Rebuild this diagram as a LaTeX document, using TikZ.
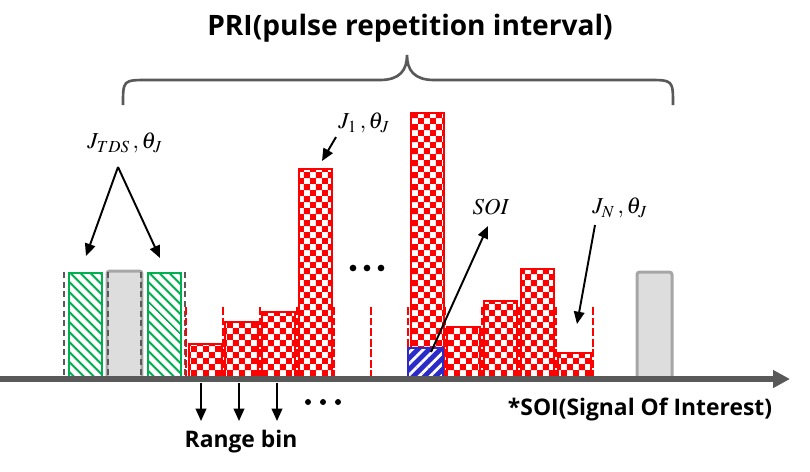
\documentclass[tikz,border=0pt]{standalone}
\usepackage{mathptmx}
\usepackage{fontspec}
\setmainfont{Liberation Serif}
\setsansfont{Open Sans}
\usepackage{tikz}
\usetikzlibrary{positioning, arrows.meta, patterns, patterns.meta}

\definecolor{axisgray}{HTML}{595959}
\definecolor{boxgray}{HTML}{A6A6A6}
\definecolor{boxfill}{HTML}{DDDDDD}
\definecolor{tdsgreen}{HTML}{00B050}
\definecolor{soiblue}{HTML}{2B2BC8}

\pgfdeclarepatternformonly{redcheck}{\pgfpointorigin}{\pgfqpoint{6.8pt}{6.8pt}}{\pgfqpoint{6.8pt}{6.8pt}}{%
  \pgfpathrectangle{\pgfpointorigin}{\pgfqpoint{3.4pt}{3.4pt}}%
  \pgfpathrectangle{\pgfqpoint{3.4pt}{3.4pt}}{\pgfqpoint{3.4pt}{3.4pt}}%
  \pgfusepath{fill}}

\tikzset{
  axisline/.style={line width=3.4pt, draw=axisgray, -{Triangle[length=9.6pt,width=9.6pt]}},
  bracket/.style={line width=1.5pt, draw=axisgray},
  graybox/.style={line width=1.7pt, draw=boxgray, fill=boxfill, rounded corners=1.5pt},
  graydash/.style={line width=1.1pt, draw=axisgray, dash pattern=on 3.5pt off 2pt},
  reddash/.style={line width=0.85pt, draw=red, dash pattern=on 4.5pt off 1.5pt},
  tdsbar/.style={line width=0.6pt, draw=tdsgreen, pattern={Lines[angle=-45,distance=4pt,line width=1.2pt]}, pattern color=tdsgreen},
  redbar/.style={line width=0.6pt, draw=red, pattern=redcheck, pattern color=red},
  soibar/.style={line width=1.5pt, draw=soiblue, preaction={fill=soiblue}, pattern={Lines[angle=45,distance=4.5pt,line width=1.6pt]}, pattern color=white},
  arr/.style={line width=1.1pt, -{Triangle[length=7pt,width=6pt]}},
  mlabel/.style={font=\fontsize{13}{15}\selectfont},
  tlabel/.style={font=\sffamily\bfseries\fontsize{13}{16}\selectfont}
}

\begin{document}
\begin{tikzpicture}[x=0.02cm, y=-0.02cm]
\useasboundingbox (0,0) rectangle (810,471);

% title and brace
\node[font=\sffamily\bfseries\fontsize{16}{19}\selectfont] (pri) at (410,28) {PRI(pulse repetition interval)};
\draw[bracket] (123,105) .. controls (123,80) .. (148,80) -- (380,80)
  .. controls (400,80) and (407,70) .. (407,55)
  .. controls (407,70) and (414,80) .. (434,80) -- (648,80)
  .. controls (673,80) .. (673,105);

% TDS jammer pulses round the first pulse
\draw[tdsbar] (69,273) rectangle (102,378);
\draw[tdsbar] (148,273) rectangle (181,378);
\draw[graybox] (107,271) rectangle (142,380);
\foreach \x in {64,108,141,185}
  \draw[graydash] (\x,272) -- (\x,378);

% range bins
\foreach \x in {186,223,...,593}
  \draw[reddash] (\x,307) -- (\x,378);
\foreach \xa/\top in {189/344, 225/322, 262/312, 299/169, 411/113, 447/327, 484/301, 521/269, 558/353}
  \draw[redbar] (\xa,\top) rectangle (\xa+33,378);
\draw[soibar] (408,348) rectangle (443,378);

% next pulse
\draw[graybox] (637,272) rectangle (672,380);

\foreach \x in {353,367,381}
  \fill (\x,268) circle (1.9pt);

% axis
\draw[axisline] (0,379) -- (790,379);

% labels
\node[mlabel] (tds) at (125,143) {$J_{TDS}\,,\theta_J$};
\coordinate (tdsTop) at (118,167);
\coordinate (tdsL) at (86,256);
\coordinate (tdsR) at (160,258);
\draw[arr] (tdsTop) -- (tdsL);
\draw[arr] (tdsTop) -- (tdsR);

\node[mlabel] (jone) at (364,123) {$J_1\,,\theta_J$};
\coordinate (joneTail) at (336,137);
\coordinate (joneTip) at (322,161);
\draw[arr] (joneTail) -- (joneTip);

\node[mlabel] (soi) at (491,207) {$SOI$};
\coordinate (soiFoot) at (431,352);
\coordinate (soiTip) at (488,226);
\draw[arr] (soiFoot) -- (soiTip);

\node[mlabel] (jn) at (620,208) {$J_N\,,\theta_J$};
\coordinate (jnTail) at (595,225);
\coordinate (jnTip) at (577,324);
\draw[arr] (jnTail) -- (jnTip);

% range bin arrows
\foreach \x [count=\i] in {201,239,277}{
  \coordinate (rb\i) at (\x,383);
  \draw[arr] (rb\i) -- ++(0,38);
}
\foreach \x in {308,323,338}
  \fill (\x,402) circle (1.7pt);
\node[tlabel] (rbin) at (241,442) {Range bin};
\node[tlabel] (soinote) at (640,409) {*SOI(Signal Of Interest)};
\end{tikzpicture}
\end{document}
